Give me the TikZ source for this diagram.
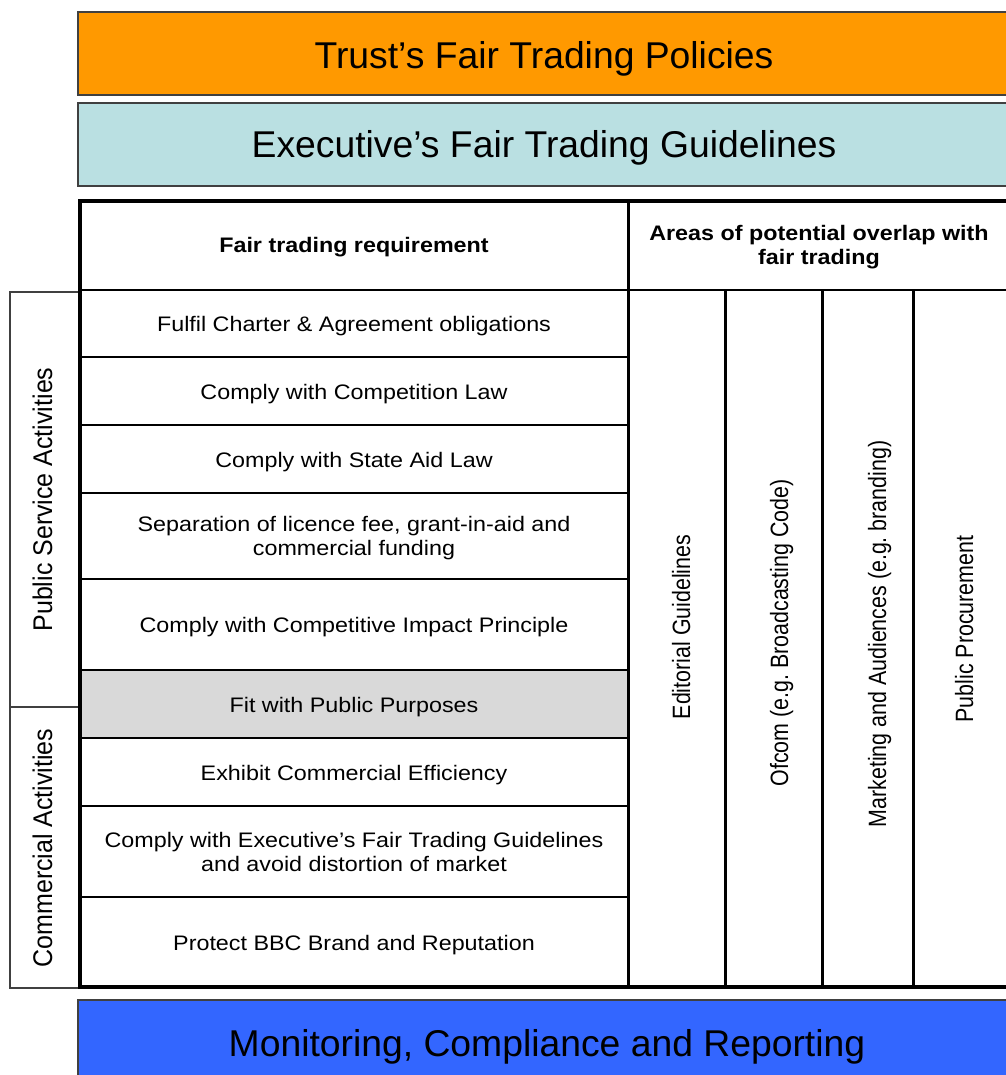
\documentclass[tikz,border=0pt]{standalone}
\usepackage{fontspec}
\setmainfont{Liberation Sans}
\usepackage{graphicx}

\definecolor{trustorange}{HTML}{FF9900}
\definecolor{execblue}{HTML}{BAE0E2}
\definecolor{monblue}{HTML}{3366FF}
\definecolor{cellgray}{HTML}{D9D9D9}
\definecolor{framegray}{HTML}{404040}

% horizontally widened cell text, vertically widened rotated text
\newcommand\wide[1]{\scalebox{1.11}[1]{#1}}
\newcommand\thick[2]{\scalebox{1}[#1]{#2}}

\begin{document}
\begin{tikzpicture}[x=1pt,y=-1pt,
  bar/.style={draw=framegray, line width=1.2pt},
  bartext/.style={font=\fontsize{37.3}{40}\selectfont, inner sep=0pt, anchor=base},
  celltext/.style={font=\fontsize{21}{24}\selectfont, align=center, inner sep=0pt},
  headtext/.style={font=\bfseries\fontsize{21}{24}\selectfont, align=center, inner sep=0pt},
  sidetext/.style={rotate=90, font=\fontsize{25}{28}\selectfont, inner sep=0pt, anchor=base},
  coltext/.style={rotate=90, font=\fontsize{21.4}{24}\selectfont, inner sep=0pt, anchor=base},
  sidebox/.style={draw=framegray, line width=1.2pt},
  rowrule/.style={line width=2.2pt},
  colrule/.style={line width=3pt},
  frame/.style={line width=4pt}]

\useasboundingbox (0,0) rectangle (1005,1075);

% ---- top and bottom bands ----
\filldraw[bar, fill=trustorange] (78,12) rectangle (1012,95);
\node[bartext] (trust) at (544,68.3) {Trust’s Fair Trading Policies};

\filldraw[bar, fill=execblue] (78,103) rectangle (1012,186);
\node[bartext] (exec) at (544,158) {Executive’s Fair Trading Guidelines};

\filldraw[bar, fill=monblue] (78,1000) rectangle (1012,1080);
\node[bartext] (monitor) at (547,1056) {Monitoring, Compliance and Reporting};

% ---- side boxes ----
\draw[sidebox] (10,292) rectangle (80,707);
\draw[sidebox] (10,707) rectangle (80,988);
\node[sidetext] (psa) at (52,499.5) {\thick{1.08}{Public Service Activities}};
\node[sidetext] (ca) at (52,848) {\thick{1.08}{Commercial Activities}};

% ---- shaded row ----
\fill[cellgray] (80,670) rectangle (628,738);

% ---- table rules ----
\foreach \yy in {357,425,493,579,670,738,806,897}
  \draw[rowrule] (80,\yy) -- (628,\yy);
\draw[rowrule] (80,290) -- (1010,290);
\foreach \xx in {725,822,913}
  \draw[colrule] (\xx,290) -- (\xx,988);
\draw[colrule] (628,200) -- (628,988);
\draw[frame] (1010,201) -- (80,201) -- (80,987) -- (1010,987);

% ---- header ----
\node[headtext, anchor=base] (hreq) at (354,252.5) {\wide{Fair trading requirement}};
\node[headtext] (hover) at (819,247.5) {\wide{Areas of potential overlap with}\\\wide{fair trading}};

% ---- requirement cells ----
\node[celltext, anchor=base] (r1) at (354,331.5) {\wide{Fulfil Charter \& Agreement obligations}};
\node[celltext, anchor=base] (r2) at (354,399) {\wide{Comply with Competition Law}};
\node[celltext, anchor=base] (r3) at (354,467) {\wide{Comply with State Aid Law}};
\node[celltext] (r4) at (354,538) {\wide{Separation of licence fee, grant-in-aid and}\\\wide{commercial funding}};
\node[celltext, anchor=base] (r5) at (354,632.5) {\wide{Comply with Competitive Impact Principle}};
\node[celltext, anchor=base] (r6) at (354,712) {\wide{Fit with Public Purposes}};
\node[celltext, anchor=base] (r7) at (354,780) {\wide{Exhibit Commercial Efficiency}};
\node[celltext] (r8) at (354,851.5) {\wide{Comply with Executive’s Fair Trading Guidelines}\\\wide{and avoid distortion of market}};
\node[celltext, anchor=base] (r9) at (354,950) {\wide{Protect BBC Brand and Reputation}};

% ---- overlap columns ----
\node[coltext] (c1) at (690,627) {\thick{1.17}{Editorial Guidelines}};
\node[coltext] (c2) at (788,633) {\thick{1.17}{Ofcom (e.g.\ Broadcasting Code)}};
\node[coltext] (c3) at (886,634) {\thick{1.17}{Marketing and Audiences (e.g.\ branding)}};
\node[coltext] (c4) at (973,629) {\thick{1.17}{Public Procurement}};

\end{tikzpicture}
\end{document}
